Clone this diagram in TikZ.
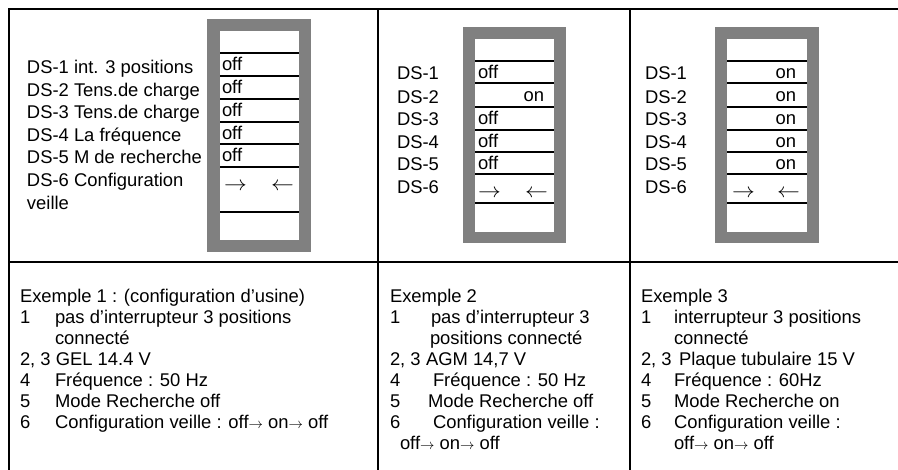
\documentclass[tikz,border=0pt]{standalone}
\usepackage{fontspec}
\setmainfont{Liberation Sans}
\definecolor{swgray}{RGB}{128,128,128}
\newcommand\myrarr{{\fontsize{14.4}{16}\selectfont$\rightarrow$}}
\newcommand\bigrarr{\scalebox{1.1}[1]{\fontsize{20.74}{24}\selectfont$\rightarrow$}}
\newcommand\biglarr{\scalebox{1.1}[1]{\fontsize{20.74}{24}\selectfont$\leftarrow$}}
\begin{document}
\begin{tikzpicture}[x=1pt,y=-1pt,
  txt/.style={font=\fontsize{18.4}{20}\selectfont, anchor=base west, inner sep=0pt, outer sep=0pt},
  txtr/.style={txt, anchor=base east},
  grid/.style={line width=2.6pt, black},
  rowline/.style={line width=1.7pt, black}]
\useasboundingbox (0,0) rectangle (898,470);
\fill[white] (0,0) rectangle (898,470);
% table
\draw[grid] (9,470) -- (9,9) -- (898,9);
\draw[grid] (378,9) -- (378,470);
\draw[grid] (630,9) -- (630,470);
\draw[grid] (9,262) -- (898,262);
% switch box 1
\fill[swgray] (207,19) rectangle (311,252);
\fill[white] (220,31) rectangle (299,240);
\foreach \y in {53,76,99,122,144,167,212} \draw[rowline] (220,\y) -- (299,\y);
% switch box 2
\fill[swgray] (463,27) rectangle (566,243);
\fill[white] (475,39) rectangle (554,232);
\foreach \y in {61,83,107,130,152,174,203} \draw[rowline] (475,\y) -- (554,\y);
% switch box 3
\fill[swgray] (715,27) rectangle (819,243);
\fill[white] (727,39) rectangle (807,232);
\foreach \y in {61,83,107,130,152,174,203} \draw[rowline] (727,\y) -- (807,\y);
% panel 1 labels
\node[txt] (a1) at (27,73.5) {DS-1 int. 3 positions};
\node[txt] (a2) at (27,96.5) {DS-2 Tens.de charge};
\node[txt] (a3) at (27,118.5) {DS-3 Tens.de charge};
\node[txt] (a4) at (27,141.5) {DS-4 La fréquence};
\node[txt] (a5) at (27,163.5) {DS-5 M de recherche};
\node[txt] (a6) at (27,186.5) {DS-6 Configuration};
\node[txt] (a7) at (27,209.5) {veille};
\node[txt] (s11) at (222,71) {off};
\node[txt] (s12) at (222,94) {off};
\node[txt] (s13) at (222,117) {off};
\node[txt] (s14) at (222,139.5) {off};
\node[txt] (s15) at (222,162) {off};
\node[txt] (s16) at (224,190.5) {\bigrarr};
\node[txtr] (s17) at (294,190.5) {\biglarr};
% panel 2 labels
\node[txt] (b1) at (397,79.5) {DS-1};
\node[txt] (b2) at (397,103.5) {DS-2};
\node[txt] (b3) at (397,125.5) {DS-3};
\node[txt] (b4) at (397,148.5) {DS-4};
\node[txt] (b5) at (397,170.5) {DS-5};
\node[txt] (b6) at (397,193.5) {DS-6};
\node[txt] (s21) at (478,78.5) {off};
\node[txtr] (s22) at (544,101.5) {on};
\node[txt] (s23) at (478,125) {off};
\node[txt] (s24) at (478,147.5) {off};
\node[txt] (s25) at (478,169.5) {off};
\node[txt] (s26) at (478,197.5) {\bigrarr};
\node[txtr] (s27) at (548,197.5) {\biglarr};
% panel 3 labels
\node[txt] (c1) at (645,79.5) {DS-1};
\node[txt] (c2) at (645,103.5) {DS-2};
\node[txt] (c3) at (645,125.5) {DS-3};
\node[txt] (c4) at (645,148.5) {DS-4};
\node[txt] (c5) at (645,170.5) {DS-5};
\node[txt] (c6) at (645,193.5) {DS-6};
\node[txtr] (s31) at (796,78.5) {on};
\node[txtr] (s32) at (796,101.5) {on};
\node[txtr] (s33) at (796,125) {on};
\node[txtr] (s34) at (796,147.5) {on};
\node[txtr] (s35) at (796,169.5) {on};
\node[txt] (s36) at (732,197.5) {\bigrarr};
\node[txtr] (s37) at (800,197.5) {\biglarr};
% bottom panel 1
\node[txt] (e1) at (20,302.5) {Exemple 1 : (configuration d’usine)};
\node[txt] (e1n1) at (20,323.5) {1};
\node[txt] (e1t1) at (55,323.5) {pas d’interrupteur 3 positions};
\node[txt] (e1t1b) at (55,344.5) {connecté};
\node[txt] (e1n2) at (20,365.5) {2, 3 GEL 14.4 V};
\node[txt] (e1n4) at (20,386.5) {4};
\node[txt] (e1t4) at (55,386.5) {Fréquence : 50 Hz};
\node[txt] (e1n5) at (20,407.5) {5};
\node[txt] (e1t5) at (55,407.5) {Mode Recherche off};
\node[txt] (e1n6) at (20,428.5) {6};
\node[txt] (e1t6) at (55,428.5) {Configuration veille : off\myrarr\ on\myrarr\ off};
% bottom panel 2
\node[txt] (e2) at (390,302.5) {Exemple 2};
\node[txt] (e2n1) at (390,323.5) {1};
\node[txt] (e2t1) at (431,323.5) {pas d’interrupteur 3};
\node[txt] (e2t1b) at (430,344.5) {positions connecté};
\node[txt] (e2n2) at (390,365.5) {2, 3};
\node[txt] (e2t2) at (426,365.5) {AGM 14,7 V};
\node[txt] (e2n4) at (390,386.5) {4};
\node[txt] (e2t4) at (433,386.5) {Fréquence : 50 Hz};
\node[txt] (e2n5) at (390,407.5) {5};
\node[txt] (e2t5) at (428,407.5) {Mode Recherche off};
\node[txt] (e2n6) at (390,428.5) {6};
\node[txt] (e2t6) at (433,428.5) {Configuration veille :};
\node[txt] (e2t6b) at (400,449.5) {off\myrarr\ on\myrarr\ off};
% bottom panel 3
\node[txt] (e3) at (641,302.5) {Exemple 3};
\node[txt] (e3n1) at (641,323.5) {1};
\node[txt] (e3t1) at (674,323.5) {interrupteur 3 positions};
\node[txt] (e3t1b) at (674,344.5) {connecté};
\node[txt] (e3n2) at (641,365.5) {2, 3};
\node[txt] (e3t2) at (679,365.5) {Plaque tubulaire 15 V};
\node[txt] (e3n4) at (641,386.5) {4};
\node[txt] (e3t4) at (674,386.5) {Fréquence : 60Hz};
\node[txt] (e3n5) at (641,407.5) {5};
\node[txt] (e3t5) at (674,407.5) {Mode Recherche on};
\node[txt] (e3n6) at (641,428.5) {6};
\node[txt] (e3t6) at (674,428.5) {Configuration veille :};
\node[txt] (e3t6b) at (674,449.5) {off\myrarr\ on\myrarr\ off};
\end{tikzpicture}
\end{document}
